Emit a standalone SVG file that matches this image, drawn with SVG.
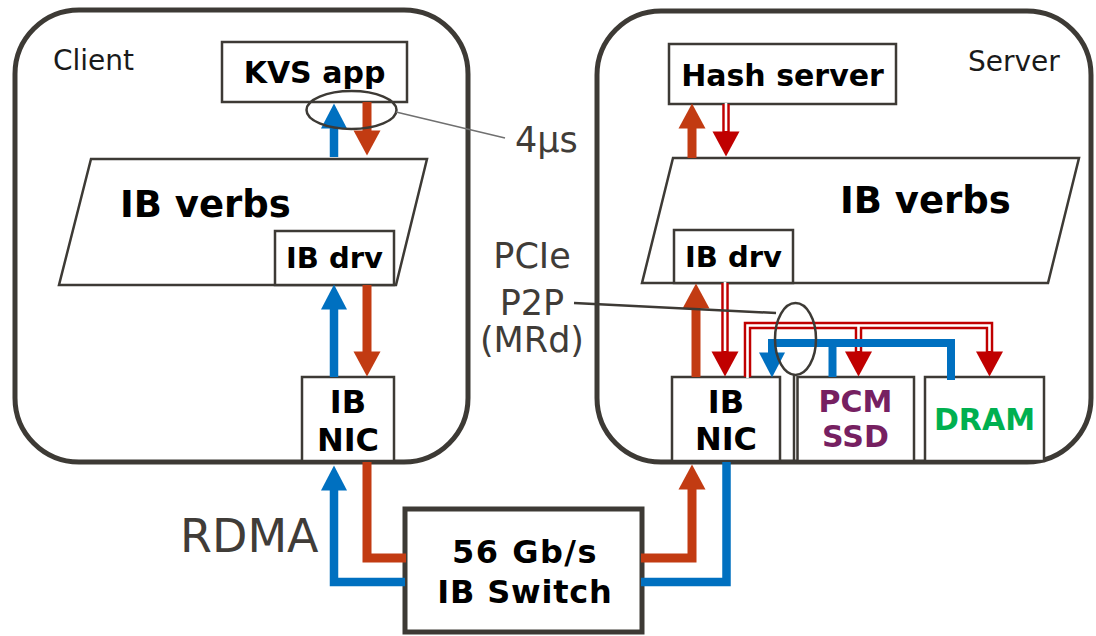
<svg xmlns="http://www.w3.org/2000/svg" width="1096" height="636" viewBox="0 0 1096 636">
<style>
.cont{fill:none;stroke:#3d3a35;stroke-width:5}
.box{fill:#fff;stroke:#3d3a35;stroke-width:2.5}
.sw{fill:#fff;stroke:#3d3a35;stroke-width:5}
.lbl{font-family:"DejaVu Sans",Verdana,sans-serif;fill:#403c38}
.b{font-family:"DejaVu Sans",Verdana,sans-serif;font-weight:bold;fill:#000}
.mid{text-anchor:middle}
.red{fill:none;stroke:#c23b12;stroke-width:9}
.blue{fill:none;stroke:#0070c0;stroke-width:8.5}
.dbl{fill:none;stroke:#c00000;stroke-width:7.5}
.dblw{fill:none;stroke:#fff;stroke-width:2.6}
.ell{fill:none;stroke:#3d3a35;stroke-width:2.5}
</style>
<defs>
<marker id="aR" markerUnits="userSpaceOnUse" markerWidth="26" markerHeight="28" refX="0.5" refY="13.5" orient="auto" overflow="visible"><path d="M0,0 L25,13.5 L0,27 Z" fill="#c23b12"/></marker>
<marker id="aB" markerUnits="userSpaceOnUse" markerWidth="26" markerHeight="28" refX="0.5" refY="13" orient="auto" overflow="visible"><path d="M0,0 L25,13 L0,26 Z" fill="#0070c0"/></marker>
<marker id="aD" markerUnits="userSpaceOnUse" markerWidth="26" markerHeight="28" refX="0.5" refY="13.5" orient="auto" overflow="visible"><path d="M0,0 L25,13.5 L0,27 Z" fill="#c00000"/></marker>
</defs>

<g id="client">
<rect class="cont" x="15" y="10" width="453" height="452" rx="64"/>
<text class="lbl" x="53" y="70" font-size="28" style="fill:#1a1a1a">Client</text>
</g>
<g id="server">
<rect class="cont" x="597" y="11" width="494" height="451" rx="64"/>
<text class="lbl" x="968" y="71" font-size="28" style="fill:#1a1a1a">Server</text>
</g>

<g id="kvs-app">
<rect class="box" x="222" y="42" width="185" height="60"/>
<text class="b mid" x="314.5" y="83" font-size="30">KVS app</text>
</g>
<g id="client-ib-verbs">
<polygon class="box" points="91,159 427,159 396,285 59,285"/>
<text class="b" x="120" y="217" font-size="37">IB verbs</text>
</g>
<g id="client-ib-drv">
<rect class="box" x="275" y="231" width="119" height="54"/>
<text class="b mid" x="334.5" y="268" font-size="29">IB drv</text>
</g>
<g id="client-ib-nic">
<rect class="box" x="302" y="377" width="92" height="84"/>
<text class="b mid" x="348" y="413" font-size="32">IB</text>
<text class="b mid" x="348" y="451" font-size="32">NIC</text>
</g>

<g id="hash-server">
<rect class="box" x="669" y="44" width="227" height="60"/>
<text class="b mid" x="782.5" y="86" font-size="30">Hash server</text>
</g>
<g id="server-ib-verbs">
<polygon class="box" points="673,158 1079,158 1048,283 642,283"/>
<text class="b" x="840" y="213" font-size="37">IB verbs</text>
</g>
<g id="server-ib-drv">
<rect class="box" x="674" y="230" width="119" height="53"/>
<text class="b mid" x="733.5" y="267" font-size="29">IB drv</text>
</g>
<g id="server-ib-nic">
<rect class="box" x="672" y="377" width="108" height="84"/>
<text class="b mid" x="726" y="413" font-size="32">IB</text>
<text class="b mid" x="726" y="450" font-size="32">NIC</text>
</g>
<g id="pcm-ssd">
<rect class="box" x="797.5" y="377" width="116.5" height="84"/>
<text class="b mid" x="855.5" y="412" font-size="30" style="fill:#762061">PCM</text>
<text class="b mid" x="855.5" y="447" font-size="30" style="fill:#762061">SSD</text>
</g>
<g id="dram">
<rect class="box" x="925" y="377" width="119" height="84"/>
<text class="b mid" x="984.5" y="430" font-size="30" style="fill:#00b050">DRAM</text>
</g>
<g id="switch">
<rect class="sw" x="405" y="509" width="237" height="123"/>
<text class="b mid" x="525" y="563" font-size="32" letter-spacing="1.5">56 Gb/s</text>
<text class="b mid" x="525" y="603" font-size="32" letter-spacing="0.8">IB Switch</text>
</g>

<g id="connectors">
<path class="blue" d="M334,157 V128" marker-end="url(#aB)"/>
<path class="red" d="M367,102 V131" marker-end="url(#aR)"/>
<path class="blue" d="M334,377 V309" marker-end="url(#aB)"/>
<path class="red" d="M367,285 V352" marker-end="url(#aR)"/>
<path class="blue" d="M405,582 H334 V490" marker-end="url(#aB)"/>
<path class="red" d="M367,462 V558 H406"/>
<path class="red" d="M641,558 H692 V489" marker-end="url(#aR)"/>
<path class="blue" d="M641,582 H726.5 V462"/>
<path class="red" d="M692,158 V128" marker-end="url(#aR)"/>
<path class="red" d="M696,377 V308" marker-end="url(#aR)"/>
<path class="dbl" d="M726,104 V132" marker-end="url(#aD)"/>
<path class="dbl" d="M725,283 V352" marker-end="url(#aD)"/>
<path class="dbl" d="M747.5,377 V325.5 H989.5 V352" marker-end="url(#aD)"/>
<path class="dbl" d="M858.5,325.5 V352" marker-end="url(#aD)"/>
<path class="dblw" d="M726,103 V131"/>
<path class="dblw" d="M725,282 V351"/>
<path class="dblw" d="M747.5,378 V325.5 H989.5 V351"/>
<path class="dblw" d="M858.5,325.5 V351"/>
<path class="blue" d="M951,380 V343 H772 V353" marker-end="url(#aB)" style="stroke-width:8;stroke-linejoin:miter"/>
<path class="blue" d="M832.5,343 V377" style="stroke-width:8"/>
<ellipse class="ell" cx="351.5" cy="110" rx="45" ry="19"/>
<line x1="396" y1="112" x2="505" y2="138" stroke="#707070" stroke-width="1.5"/>
<ellipse class="ell" cx="795.5" cy="339" rx="20.5" ry="36"/>
<line x1="574" y1="303" x2="776" y2="313" stroke="#3d3a35" stroke-width="2.5"/>
<line x1="794" y1="375" x2="794" y2="461" stroke="#3d3a35" stroke-width="2.5"/>
</g>

<g id="labels">
<text class="lbl" x="515" y="152" font-size="35">4µs</text>
<text class="lbl" x="180" y="552" font-size="46">RDMA</text>
<text class="lbl mid" x="532" y="268" font-size="35">PCIe</text>
<text class="lbl mid" x="532" y="315" font-size="35">P2P</text>
<text class="lbl mid" x="532" y="352" font-size="35">(MRd)</text>
</g>
</svg>
